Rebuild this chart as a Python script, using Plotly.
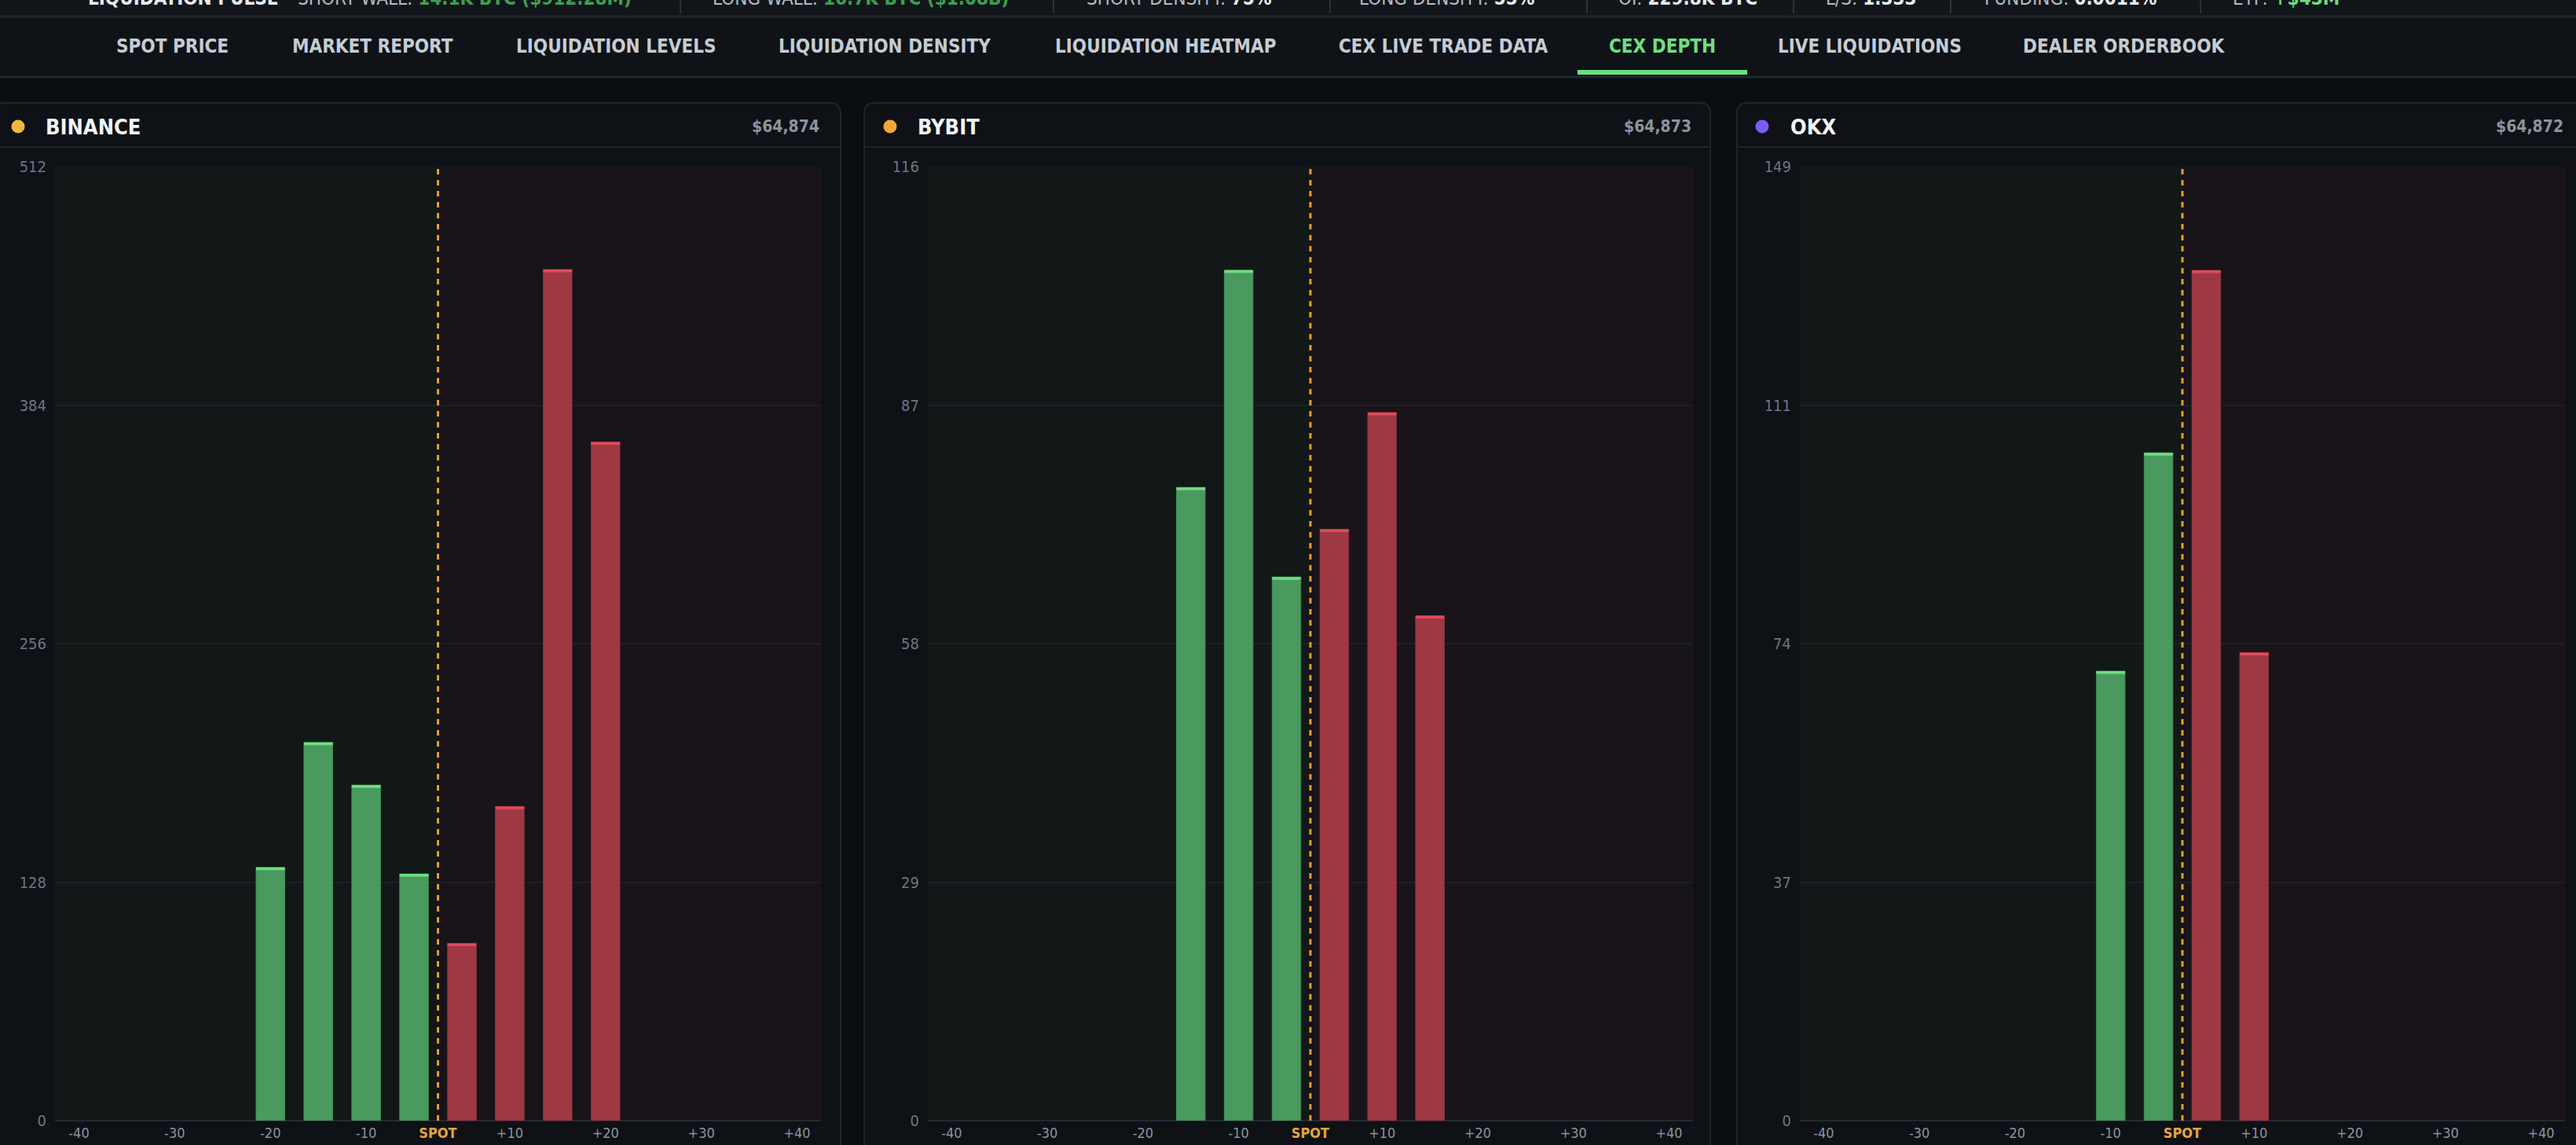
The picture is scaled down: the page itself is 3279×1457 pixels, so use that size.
import math
import plotly.graph_objects as go

W, H = 3279, 1457

# ---------------- data ----------------
OFFSET_BINS = ["-40", "-35", "-30", "-25", "-20", "-15", "-10", "-5",
               "+5", "+10", "+15", "+20", "+25", "+30", "+35", "+40"]
BID_BINS = OFFSET_BINS[:8]
ASK_BINS = OFFSET_BINS[8:]
X_TICK_LABELS = ["-40", "-30", "-20", "-10", "SPOT", "+10", "+20", "+30", "+40"]

EXCHANGES = ["BINANCE", "BYBIT", "OKX"]
SPOT_PRICES = ["$64,874", "$64,873", "$64,872"]
DOT_COLORS = ["#f0b93b", "#f3a73b", "#7c5cf3"]
AXIS_MAX = [512, 116, 149]

BINANCE_BIDS = [0, 0, 0, 0, 135.9, 203.0, 180.1, 132.4]
BINANCE_ASKS = [95.1, 168.6, 456.8, 364.2, 0, 0, 0, 0]
BYBIT_BIDS = [0, 0, 0, 0, 0, 77.0, 103.4, 66.1]
BYBIT_ASKS = [71.9, 86.1, 61.4, 0, 0, 0, 0, 0]
OKX_BIDS = [0, 0, 0, 0, 0, 0, 70.2, 104.3]
OKX_ASKS = [132.8, 73.1, 0, 0, 0, 0, 0, 0]

BIDS = [BINANCE_BIDS, BYBIT_BIDS, OKX_BIDS]
ASKS = [BINANCE_ASKS, BYBIT_ASKS, OKX_ASKS]

NAV_ITEMS = ["SPOT PRICE", "MARKET REPORT", "LIQUIDATION LEVELS", "LIQUIDATION DENSITY",
             "LIQUIDATION HEATMAP", "CEX LIVE TRADE DATA", "CEX DEPTH",
             "LIVE LIQUIDATIONS", "DEALER ORDERBOOK"]
ACTIVE_NAV = "CEX DEPTH"

PULSE_TITLE = "LIQUIDATION PULSE"
PULSE_LABELS = ["SHORT WALL:", "LONG WALL:", "SHORT DENSITY:", "LONG DENSITY:",
                "OI:", "L/S:", "FUNDING:", "ETF:"]
PULSE_VALUES = ["14.1K BTC ($912.28M)", "16.7K BTC ($1.08B)", "75%", "55%",
                "229.8K BTC", "1.333", "0.0011%", "+$43M"]

# ---------------- layout geometry (px) ----------------
FONT = "Liberation Sans Narrow, DejaVu Sans Condensed, Arial Narrow, sans-serif"
PLOT_TOP, PLOT_BOTTOM = 212, 1426
PLOT_X = [(70, 1045), (1181, 2155), (2291, 3265)]
PANEL_X = [(-8, 1070), (1100, 2177), (2211, 3290)]
PANEL_TOP, HEADER_LINE, HEADER_MID = 131, 187, 161
DOT_X = [23, 1133, 2243]
NAME_X = [56, 1166, 2277]
NAV_X = [220, 474, 784, 1126, 1484, 1837, 2116, 2380, 2703]
PULSE_X = [377, 905, 1381, 1728, 2058, 2322, 2524, 2840]
PULSE_TITLE_X = 110
PULSE_DIVIDERS = [866, 1341, 1693, 2020, 2283, 2483, 2801]
PULSE_VALUE_COLORS = ["#3f9f4e", "#3f9f4e", "#e8ecf0", "#e8ecf0",
                      "#e8ecf0", "#e8ecf0", "#e8ecf0", "#6ee07f"]


def px(x):
    return x / W


def py(y):
    return 1 - y / H


pos = {b: i for i, b in enumerate(OFFSET_BINS)}
spot_pos = (pos["-5"] + pos["+5"]) / 2
tickvals = [spot_pos if t == "SPOT" else pos[t] for t in X_TICK_LABELS]
ticktext = ['<span style="color:#e9a23b"><b>SPOT</b></span>' if t == "SPOT" else t
            for t in X_TICK_LABELS]

fig = go.Figure()
shapes = []
annotations = []

# page chrome: top pulse strip + nav bar
shapes.append(dict(type="rect", xref="paper", yref="paper", x0=0, x1=1, y0=py(20), y1=py(-5),
                   fillcolor="#12161b", line=dict(width=0), layer="below"))
shapes.append(dict(type="rect", xref="paper", yref="paper", x0=0, x1=1, y0=py(97), y1=py(22),
                   fillcolor="#0f1318", line=dict(width=0), layer="below"))
for yl in (21, 98):
    shapes.append(dict(type="line", xref="paper", yref="paper", x0=0, x1=1, y0=py(yl), y1=py(yl),
                       line=dict(color="#1f2731", width=3), layer="below"))
for xd in PULSE_DIVIDERS:
    shapes.append(dict(type="line", xref="paper", yref="paper", x0=px(xd), x1=px(xd),
                       y0=py(0), y1=py(17), line=dict(color="#2a3139", width=2), layer="below"))

annotations.append(dict(xref="paper", yref="paper", x=px(PULSE_TITLE_X), y=py(-2),
                        xanchor="left", yanchor="middle", showarrow=False,
                        text="<b>" + PULSE_TITLE + "</b>",
                        font=dict(family=FONT, size=24, color="#e8ecf0")))
for lab, val, col, xx in zip(PULSE_LABELS, PULSE_VALUES, PULSE_VALUE_COLORS, PULSE_X):
    annotations.append(dict(xref="paper", yref="paper", x=px(xx), y=py(-2),
                            xanchor="left", yanchor="middle", showarrow=False,
                            text='%s <span style="color:%s"><b>%s</b></span>' % (lab, col, val),
                            font=dict(family=FONT, size=24, color="#b3bac2")))

for item, xx in zip(NAV_ITEMS, NAV_X):
    active = item == ACTIVE_NAV
    annotations.append(dict(xref="paper", yref="paper", x=px(xx), y=py(59),
                            xanchor="center", yanchor="middle", showarrow=False,
                            text="<b>" + item + "</b>",
                            font=dict(family=FONT, size=24,
                                      color="#6ee07f" if active else "#c5ccd4")))
    if active:
        shapes.append(dict(type="rect", xref="paper", yref="paper",
                           x0=px(xx - 108), x1=px(xx + 108), y0=py(95), y1=py(89),
                           fillcolor="#6ee07f", line=dict(width=0)))


def rounded_panel(x0, x1, y0, y1, r=13):
    rx, ry = r / W, r / H
    X0, X1, Y0, Y1 = px(x0), px(x1), py(y1), py(y0)  # Y1 is top in paper
    return ("M %f,%f L %f,%f Q %f,%f %f,%f L %f,%f Q %f,%f %f,%f L %f,%f L %f,%f Z" % (
        X0, Y0, X0, Y1 - ry, X0, Y1, X0 + rx, Y1, X1 - rx, Y1, X1, Y1, X1, Y1 - ry, X1, Y0, X0, Y0))


layout_axes = {}
for k in range(3):
    n = k + 1
    xa = "x" if n == 1 else "x%d" % n
    ya = "y" if n == 1 else "y%d" % n
    m = AXIS_MAX[k]

    # panel card
    pl, pr = PANEL_X[k]
    shapes.append(dict(type="path", xref="paper", yref="paper",
                       path=rounded_panel(pl, pr, PANEL_TOP, H + 30),
                       fillcolor="#0e1116", line=dict(color="#1f252d", width=2), layer="below"))
    shapes.append(dict(type="line", xref="paper", yref="paper", x0=px(pl), x1=px(pr),
                       y0=py(HEADER_LINE), y1=py(HEADER_LINE),
                       line=dict(color="#1f252d", width=2), layer="below"))
    # header dot, name, price
    shapes.append(dict(type="circle", xref="paper", yref="paper",
                       x0=px(DOT_X[k] - 8.5), x1=px(DOT_X[k] + 8.5),
                       y0=py(HEADER_MID + 8.5), y1=py(HEADER_MID - 8.5),
                       fillcolor=DOT_COLORS[k], line=dict(width=0)))
    annotations.append(dict(xref="paper", yref="paper", x=px(NAME_X[k]), y=py(HEADER_MID),
                            xanchor="left", yanchor="middle", showarrow=False,
                            text="<b>" + EXCHANGES[k] + "</b>",
                            font=dict(family=FONT, size=27, color="#f0f3f6")))
    annotations.append(dict(xref="paper", yref="paper", x=px(PLOT_X[k][1]), y=py(HEADER_MID),
                            xanchor="right", yanchor="middle", showarrow=False,
                            text="<b>" + SPOT_PRICES[k] + "</b>",
                            font=dict(family=FONT, size=21, color="#8b949e")))

    # bid / ask background halves
    shapes.append(dict(type="rect", xref=xa, yref=ya + " domain", x0=-0.5, x1=spot_pos,
                       y0=0, y1=1, fillcolor="#111817", line=dict(width=0), layer="below"))
    shapes.append(dict(type="rect", xref=xa, yref=ya + " domain", x0=spot_pos, x1=len(OFFSET_BINS) - 0.5,
                       y0=0, y1=1, fillcolor="#18141a", line=dict(width=0), layer="below"))
    # spot line
    shapes.append(dict(type="line", xref=xa, yref=ya + " domain", x0=spot_pos, x1=spot_pos,
                       y0=0, y1=1, line=dict(color="#e59c30", width=3, dash="7px,7px"), layer="above"))

    cap = m * 3.5 / (PLOT_BOTTOM - PLOT_TOP)
    for bins, vals, fill, edge, capc in ((BID_BINS, BIDS[k], "#4a9a5f", "#3f8853", "#6ee07f"),
                                         (ASK_BINS, ASKS[k], "#9e3944", "#8a323c", "#e04b5a")):
        xs = [pos[b] for b, v in zip(bins, vals) if v > 0]
        ys = [v for v in vals if v > 0]
        fig.add_trace(go.Bar(x=xs, y=ys, width=0.6, xaxis=xa, yaxis=ya,
                             marker=dict(color=fill, line=dict(color=edge, width=1)),
                             hoverinfo="skip"))
        fig.add_trace(go.Bar(x=xs, y=[cap] * len(ys), base=[v - cap for v in ys], width=0.6,
                             xaxis=xa, yaxis=ya, marker=dict(color=capc, line=dict(width=0)),
                             hoverinfo="skip"))

    layout_axes["xaxis" if n == 1 else "xaxis%d" % n] = dict(
        domain=[px(PLOT_X[k][0]), px(PLOT_X[k][1])], anchor=ya,
        range=[-0.5, len(OFFSET_BINS) - 0.5], tickmode="array",
        tickvals=tickvals, ticktext=ticktext, ticks="", ticklabelstandoff=3,
        tickfont=dict(family=FONT, size=18, color="#8b949e"),
        showgrid=False, zeroline=False, showline=False, fixedrange=True, automargin=False)
    yt = [m * i / 4 for i in range(5)]
    layout_axes["yaxis" if n == 1 else "yaxis%d" % n] = dict(
        domain=[1 - PLOT_BOTTOM / H, 1 - PLOT_TOP / H], anchor=xa,
        range=[0, m], tickmode="array", tickvals=yt,
        ticktext=[str(int(math.floor(v))) for v in yt], ticks="", ticklabelstandoff=10,
        tickfont=dict(family=FONT, size=20, color="#6e7681"),
        showgrid=True, gridcolor="#1c2126", gridwidth=1.5,
        zeroline=True, zerolinecolor="#252a31", zerolinewidth=2,
        showline=False, fixedrange=True, automargin=False)

fig.update_layout(
    width=W, height=H, autosize=False,
    margin=dict(l=0, r=0, t=0, b=0),
    paper_bgcolor="#0a0d11", plot_bgcolor="rgba(0,0,0,0)",
    barmode="overlay", showlegend=False, hovermode=False,
    shapes=shapes, annotations=annotations,
    font=dict(family=FONT, color="#8b949e"),
    **layout_axes,
)

fig.write_html("out.html", config={"displayModeBar": False, "responsive": False})
